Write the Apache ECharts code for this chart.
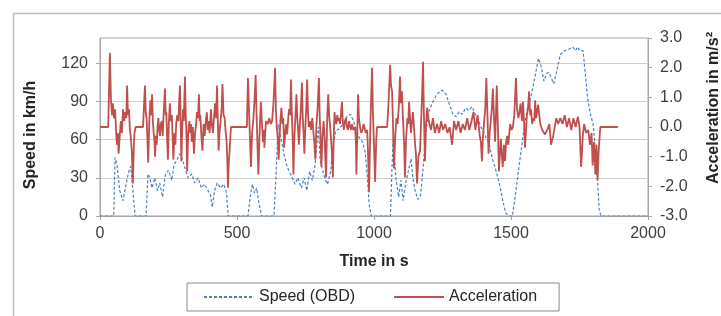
<!DOCTYPE html>
<html>
<head>
<meta charset="utf-8">
<title>Speed and acceleration</title>
<script src="https://cdn.jsdelivr.net/npm/echarts@6/dist/echarts.min.js"></script>
<style>
	html,body{margin:0;padding:0;background:#fff;}
	#chart{width:721px;height:316px;}
</style>
</head>
<body>
<div id="chart"></div>
<script>
// speed from OBD, km/h
var speedTime = [0,50,55,62,72,84,95,105,112,120,128,168,175,182,190,200,210,218,228,238,250,262,270,280,292,302,312,322,335,345,358,370,382,394,403,410,418,428,440,452,462,468,540,548,556,564,572,580,590,635,643,650,660,670,680,690,700,712,722,735,745,755,765,775,785,797,803,810,820,830,842,850,860,870,885,900,915,930,945,958,968,976,982,990,1060,1066,1070,1080,1090,1098,1106,1115,1125,1135,1142,1150,1160,1170,1180,1190,1200,1215,1230,1248,1262,1275,1288,1300,1310,1322,1335,1345,1358,1370,1380,1390,1400,1412,1420,1432,1445,1458,1470,1480,1489,1505,1515,1530,1545,1560,1573,1588,1600,1610,1620,1630,1638,1648,1656,1665,1680,1695,1710,1725,1735,1743,1750,1763,1772,1780,1790,1800,1808,1815,1822,1828,2000];
var speedKmh = [0,0,46,40,20,12,25,35,39,20,0,0,33,30,22,30,20,26,15,32,36,28,40,44,49,44,36,30,33,26,30,22,25,20,17,7,20,26,22,25,18,0,0,15,25,18,22,10,0,0,35,72,62,50,41,35,31,25,30,22,30,20,35,28,40,70,45,38,30,25,35,55,67,68,72,78,80,72,62,58,50,30,10,0,0,40,60,30,15,28,12,25,35,45,30,20,13,16,40,68,82,90,96,99,96,88,80,78,82,80,85,83,86,80,76,70,66,60,57,45,36,25,12,3,0,0,15,40,65,85,94,110,124,118,106,112,113,108,104,112,127,130,131,133,130,133,130,130,110,92,80,72,52,30,5,0,0];

// acceleration, m/s2
var accelTime = [
	0,30,36,40,44,47,51,55,59,62,
	65,68,72,76,80,84,88,92,96,99,
	102,106,109,112,116,120,124,126,130,157,
	164,167,170,173,176,180,184,187,190,193,
	196,199,201,204,207,210,213,216,219,222,
	226,229,232,237,240,242,245,248,251,255,
	258,262,265,268,272,275,278,282,286,289,
	292,294,297,300,303,306,310,313,316,318,
	322,326,329,332,335,339,343,347,350,354,
	358,361,364,366,370,374,378,382,386,390,
	393,396,400,405,408,412,416,420,424,427,
	430,433,436,440,444,447,451,455,458,462,
	465,467,470,473,476,478,536,540,544,547,
	551,555,560,564,568,571,574,578,582,587,
	591,595,598,600,603,606,612,618,623,628,
	633,639,642,645,649,652,656,659,662,666,
	669,672,676,680,683,687,690,694,697,700,
	703,706,709,713,717,720,723,726,730,733,
	737,740,743,746,750,753,756,759,762,766,
	770,775,779,782,786,790,794,799,802,805,
	808,812,816,820,825,829,833,837,840,843,
	846,850,853,856,859,862,866,869,872,876,
	880,883,886,890,894,898,901,905,909,913,
	917,920,925,931,934,936,939,942,945,949,
	953,958,962,966,970,975,978,982,986,989,
	993,996,1000,1004,1008,1011,1048,1053,1059,1062,
	1066,1069,1073,1077,1082,1086,1090,1095,1098,1102,
	1106,1110,1113,1117,1122,1125,1128,1132,1135,1138,
	1142,1146,1150,1153,1157,1162,1168,1172,1176,1179,
	1182,1186,1190,1194,1200,1208,1215,1222,1230,1238,
	1245,1252,1260,1268,1276,1285,1292,1300,1308,1316,
	1324,1332,1340,1348,1356,1363,1370,1378,1386,1390,
	1394,1398,1402,1406,1410,1414,1418,1422,1427,1430,
	1434,1438,1442,1445,1448,1452,1456,1460,1463,1466,
	1470,1474,1478,1482,1486,1490,1494,1497,1502,1507,
	1512,1518,1522,1527,1531,1535,1540,1544,1548,1551,
	1555,1558,1562,1566,1570,1573,1577,1582,1585,1588,
	1592,1595,1599,1607,1614,1624,1632,1640,1646,1654,
	1665,1672,1680,1688,1696,1704,1712,1720,1728,1736,
	1744,1750,1756,1762,1767,1774,1782,1788,1794,1798,
	1803,1808,1812,1816,1820,1826,1890
];
var accelMs2 = [
	0,0,2.5,0.9,0.4,0.8,0.3,0.6,-0.2,-0.6,
	-0.2,-0.9,-0.3,0.2,-0.2,0.6,0.2,0.5,0.3,1.4,
	0.4,0.6,-0.1,-0.3,-0.8,-1.9,-0.5,-0.2,0,0,
	1.4,0.5,0.3,-0.4,-1.2,0.2,0.9,0.4,1.1,0.2,
	-0.2,-0.5,-1.0,-0.3,-0.6,0,0.3,-0.1,-0.3,0.1,
	0.2,-0.3,0.4,1.3,0.4,0.5,-0.4,-1.1,0.1,0.8,
	0.2,0.4,-0.3,-1.1,-0.2,-0.6,0.1,0.4,0.2,0.9,
	1.4,0.3,-1.15,-0.1,0.6,0.2,1.7,0.4,-0.4,-1.5,
	-0.2,0.2,-0.2,0.1,-0.5,0,-0.9,-0.2,0,0.5,
	0.3,1.1,0.2,0.4,-0.3,-0.8,0.1,-0.3,0.2,0.5,
	-0.1,0.2,-0.2,0.6,0.1,-0.2,0.3,0.8,0.3,1.4,
	0.2,-0.8,-0.2,0.2,0.6,1.45,0.4,0.3,-0.1,-0.5,
	-1.2,-2.05,-1.2,-0.8,-0.3,0,0,1.65,0.5,-0.3,
	-1.35,-0.2,0.3,0.9,1.75,0.6,-0.4,-1.6,-0.3,0.85,
	0.1,-0.5,-0.1,-0.7,-0.2,0.2,0.1,0.3,0.1,0.2,
	0.8,2.0,0.6,0,-0.4,-1.1,-0.2,0.3,0.65,0.1,
	0.3,-0.7,-0.2,0.1,-0.25,0.3,0.6,0.4,1.6,0.5,
	-0.3,-1.6,-0.4,0.3,1.1,0.3,-0.1,-0.6,0.2,0.6,
	1.5,0.3,-0.2,-0.9,0.1,0.7,1.6,0.5,0,0.2,
	-0.1,0.3,-0.2,-0.5,-1.1,0.1,0.6,1.65,0.3,-0.4,
	-1.35,-0.3,0.2,-0.4,-1.7,0.2,1.1,0.3,0,-0.4,
	-0.8,-1.7,-0.3,0.5,0.2,0.1,0.4,0.2,0.3,0.1,
	0.5,0.85,0.2,-0.1,0.2,0.3,0,-0.1,0.2,0,
	-0.1,0.1,-0.1,0,-0.5,-1.6,-0.2,1.1,0.3,0,
	-0.2,-0.1,0.1,0.1,-0.2,-0.1,-0.8,-2.2,-0.3,0.8,
	2.0,0.5,-0.6,-1.85,-0.5,0,0,0.8,2.1,1.4,
	1.2,0.2,-1.4,-0.4,0.3,0.1,0.6,1.7,0.8,1.2,
	0.2,-0.6,-1.7,-0.4,0.3,0.1,0.85,0.2,-0.2,0.1,
	0.5,0,-0.6,-0.9,-1.9,-1.0,-0.8,0.2,1.2,2.2,
	0.5,-1.15,0.1,0.65,0.2,-0.1,0.3,-0.2,0.1,-0.2,
	0.2,-0.1,0.1,-0.2,0,-0.6,0.2,-0.1,0.2,-0.2,
	0.1,-0.1,0.3,-0.1,0.2,0.5,-0.1,0.4,-0.3,-0.5,
	-1.15,-0.3,0.2,0.6,1.65,0.4,-0.9,-0.2,0.3,0.6,
	1.3,0.3,-0.5,0.4,1.4,0.1,-1.5,-0.8,-0.4,-0.9,
	-1.35,-0.6,-1.15,-0.5,-0.3,-0.6,-0.2,0.1,-0.1,0,
	0.4,1.65,0.6,0.3,0.5,0.8,0.2,0.85,0.1,-0.7,
	-0.1,0.4,0.6,1.2,0.4,0.6,0.1,0.3,0.2,0.9,
	0.3,0.5,0.75,0.1,-0.1,-0.25,-0.1,0.1,-0.6,-0.3,
	0.3,0.1,0.3,0.1,0.4,0,0.3,-0.1,0.3,0,
	0.35,0,-1.35,-0.3,0.1,-0.2,-0.1,-0.6,-0.2,-1.3,
	-0.5,-1.6,-0.6,-1.8,-0.8,0,0
];

var seriesNames = ['Speed (OBD)','Acceleration'];

function pairs(ts,vs){
	var out = [];
	for(var i=0;i<ts.length;i++){
		out.push([ts[i],vs[i]]);
	}
	return out;
}

var font = 'Liberation Sans, Arial, sans-serif';
var myChart = echarts.init(document.getElementById('chart'),null,{renderer:'canvas'});
option = {
	backgroundColor:'#fff',
	animation:false,
	grid:{
		left:100,top:38,width:548,height:178,
		show:true,borderColor:'#a6a6a6',borderWidth:1,
		outerBoundsMode:'none'
	},
	legend:{
		data:seriesNames,
		left:187,top:283,
		itemWidth:50,itemHeight:12,itemGap:38,
		padding:[6,22,6,16],
		borderColor:'#8c8c8c',borderWidth:1,
		itemStyle:{opacity:0},
		textStyle:{fontFamily:font,fontSize:16,color:'#262626'}
	},
	xAxis:{
		type:'value',min:0,max:2000,interval:500,
		name:'Time in s',nameLocation:'middle',nameGap:38,
		nameTextStyle:{fontFamily:font,fontSize:16,fontWeight:'bold',color:'#262626'},
		axisLine:{lineStyle:{color:'#a6a6a6'}},
		axisTick:{show:true,length:4,lineStyle:{color:'#a6a6a6'}},
		axisLabel:{fontFamily:font,fontSize:16,color:'#404040',margin:10,
			formatter:function(v){return String(v);}},
		splitLine:{show:false}
	},
	yAxis:[
		{
			type:'value',min:0,max:140,interval:30,
			axisLine:{show:true,lineStyle:{color:'#a6a6a6'}},
			axisTick:{show:true,length:4,lineStyle:{color:'#a6a6a6'}},
			axisLabel:{fontFamily:font,fontSize:16,color:'#404040',margin:12,showMaxLabel:false},
			splitLine:{show:true,lineStyle:{color:'#cfcfcf',width:1}}
		},
		{
			type:'value',min:-3,max:3,interval:1,position:'right',
			axisLine:{show:true,lineStyle:{color:'#a6a6a6'}},
			axisTick:{show:true,length:4,lineStyle:{color:'#a6a6a6'}},
			axisLabel:{fontFamily:font,fontSize:16,color:'#404040',margin:12,
				formatter:function(v){return v.toFixed(1);}},
			splitLine:{show:false}
		}
	],
	graphic:[
		{type:'rect',left:11,top:11,z:-10,silent:true,
			shape:{width:740,height:330},
			style:{fill:'none',stroke:'#bfbfbf',lineWidth:1.5}},
		{type:'text',x:31,y:135,rotation:Math.PI/2,silent:true,
			style:{text:'Speed in km/h',font:'bold 16px '+font,fill:'#262626',align:'center',verticalAlign:'middle'}},
		{type:'text',x:714,y:108,rotation:Math.PI/2,silent:true,
			style:{text:'Acceleration in m/s²',font:'bold 16px '+font,fill:'#262626',align:'center',verticalAlign:'middle'}}
	],
	series:[
		{
			name:seriesNames[0],type:'line',yAxisIndex:0,
			data:pairs(speedTime,speedKmh),
			showSymbol:false,symbol:'none',
			lineStyle:{color:'#4f81bd',width:1.2,type:[3,2]},
			itemStyle:{color:'#4f81bd'},
			z:2
		},
		{
			name:seriesNames[1],type:'line',yAxisIndex:1,
			data:pairs(accelTime,accelMs2),
			showSymbol:false,symbol:'none',
			lineStyle:{color:'#c0504d',width:1.8},
			itemStyle:{color:'#c0504d'},
			z:3
		}
	]
};
myChart.setOption(option);
</script>
</body>
</html>
